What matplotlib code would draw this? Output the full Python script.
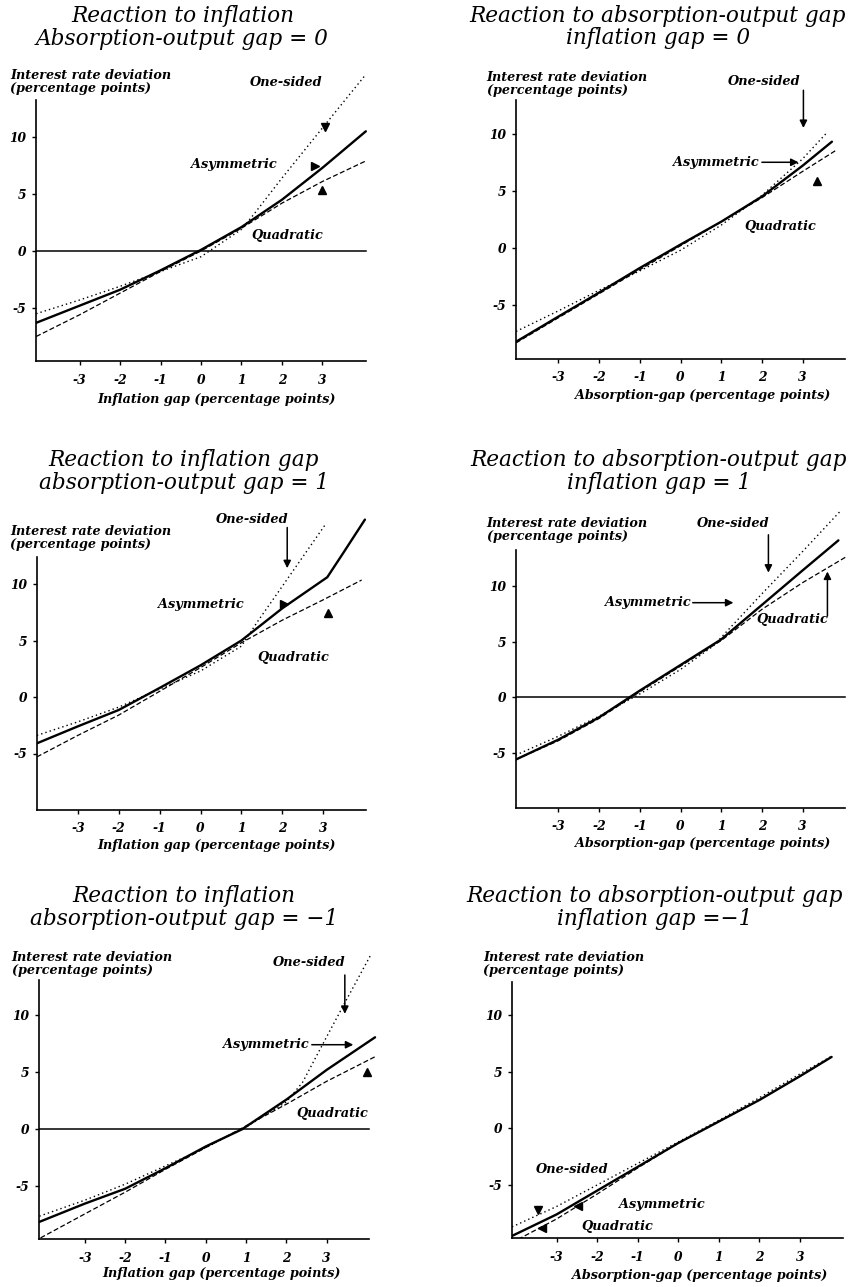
import matplotlib
matplotlib.use("Agg")
import matplotlib.pyplot as plt

# ---------------- data ----------------
X_TICKS = [-3, -2, -1, 0, 1, 2, 3]
X_TICK_LABELS = ["-3", "-2", "-1", "0", "1", "2", "3"]
Y_TICKS = [-5, 0, 5, 10]
Y_TICK_LABELS = ["-5", "0", "5", "10"]

TITLES = [
    "Reaction to inflation\nAbsorption-output gap = 0",
    "Reaction to absorption-output gap\ninflation gap = 0",
    "Reaction to inflation gap\nabsorption-output gap = 1",
    "Reaction to absorption-output gap\ninflation gap = 1",
    "Reaction to inflation\nabsorption-output gap = \u22121",
    "Reaction to absorption-output gap\ninflation gap =\u22121",
]
XLABELS = [
    "Inflation gap (percentage points)",
    "Absorption-gap (percentage points)",
    "Inflation gap (percentage points)",
    "Absorption-gap (percentage points)",
    "Inflation gap (percentage points)",
    "Absorption-gap (percentage points)",
]
YLABEL = "Interest rate deviation\n(percentage points)"

# Panel 1
P1_ASYM_X = [-4.07, -3, -2, -1, 0, 1, 2, 3, 4.07]
P1_ASYM_Y = [-6.3, -4.8, -3.4, -1.7, 0.1, 2.1, 4.5, 7.3, 10.5]
P1_QUAD_X = [-4.07, -3, -2, -1, 0, 1, 2, 3, 4.07]
P1_QUAD_Y = [-7.5, -5.6, -3.7, -1.8, 0.0, 2.0, 4.2, 6.1, 7.9]
P1_ONE_X = [-4.07, -3, -2, -1, 0, 1, 1.3, 2, 3, 4.05]
P1_ONE_Y = [-5.5, -4.3, -3.1, -1.8, -0.5, 1.9, 3.2, 6.4, 10.8, 15.4]

# Panel 2
P2_ASYM_X = [-4.04, -3, -2, -1, 0, 1, 2, 3, 3.72]
P2_ASYM_Y = [-8.2, -6.0, -3.9, -1.75, 0.3, 2.3, 4.5, 7.2, 9.3]
P2_QUAD_X = [-4.04, -3, -2, -1, 0, 1, 2, 3, 3.8]
P2_QUAD_Y = [-8.3, -6.1, -4.0, -1.9, 0.2, 2.3, 4.4, 6.7, 8.5]
P2_ONE_X = [-4.04, -3, -2, -1, 0, 1, 2, 3, 3.6]
P2_ONE_Y = [-7.3, -5.5, -3.7, -2.0, -0.2, 2.0, 4.6, 7.8, 10.1]

# Panel 3
P3_ASYM_X = [-4.0, -3, -2, -1, 0, 1, 2, 3.1, 3.5, 4.02]
P3_ASYM_Y = [-4.1, -2.6, -1.15, 0.8, 2.8, 5.0, 7.85, 10.6, 12.8, 15.7]
P3_QUAD_X = [-4.0, -3, -2, -1, 0, 1, 2, 3, 3.94]
P3_QUAD_Y = [-5.3, -3.4, -1.6, 0.5, 2.6, 4.8, 6.8, 8.6, 10.35]
P3_ONE_X = [-4.0, -3, -2, -1, 0, 1, 1.4, 2, 3.04]
P3_ONE_Y = [-3.4, -2.2, -0.9, 0.7, 2.3, 4.5, 6.7, 9.8, 15.2]

# Panel 4
P4_ASYM_X = [-4.05, -3, -2, -1, 0, 1, 2, 3, 3.88]
P4_ASYM_Y = [-5.6, -3.8, -1.8, 0.6, 2.9, 5.2, 8.3, 11.4, 14.1]
P4_QUAD_X = [-4.05, -3, -2, -1, 0, 1, 2, 3, 4.06]
P4_QUAD_Y = [-5.6, -3.9, -1.9, 0.5, 2.8, 5.1, 7.9, 10.3, 12.6]
P4_ONE_X = [-4.05, -3, -2, -1, 0, 0.8, 2, 3, 3.92]
P4_ONE_Y = [-5.2, -3.5, -1.7, 0.3, 2.5, 4.6, 9.3, 13.1, 16.7]

# Panel 5
P5_ASYM_X = [-4.13, -3, -2, -1, 0, 0.9, 2, 3, 4.2]
P5_ASYM_Y = [-8.1, -6.5, -5.2, -3.4, -1.5, 0.0, 2.6, 5.2, 8.05]
P5_QUAD_X = [-4.1, -3, -2, -1, 0, 1, 2, 3, 4.2]
P5_QUAD_Y = [-9.5, -7.4, -5.5, -3.5, -1.6, 0.3, 2.2, 4.2, 6.35]
P5_ONE_X = [-4.13, -3, -2, -1, 0, 1, 2, 2.4, 3, 3.5, 4.1]
P5_ONE_Y = [-7.6, -6.2, -4.8, -3.2, -1.6, 0.2, 2.4, 4.1, 8.1, 11.4, 15.3]

# Panel 6
P6_ASYM_X = [-4.1, -3, -2, -1, 0, 1, 2, 3, 3.78]
P6_ASYM_Y = [-9.5, -7.6, -5.5, -3.4, -1.3, 0.6, 2.5, 4.6, 6.3]
P6_QUAD_X = [-3.95, -3, -2, -1, 0, 1, 2, 3, 3.78]
P6_QUAD_Y = [-9.8, -8.0, -5.8, -3.5, -1.3, 0.6, 2.5, 4.6, 6.3]
P6_ONE_X = [-4.1, -3, -2, -1, 0, 1, 2, 3, 3.75]
P6_ONE_Y = [-8.7, -6.9, -5.0, -3.1, -1.2, 0.7, 2.7, 4.8, 6.3]

# ---------------- layout ----------------
W, H = 853, 1287
fig = plt.figure(figsize=(W / 100, H / 100), dpi=100)
fig.patch.set_facecolor("white")

TITLE_FONT = dict(family="DejaVu Serif", style="italic", size=15.6)
SMALL_FONT = dict(family="DejaVu Serif", style="italic", weight="bold", size=9.2)
ANN_FONT = dict(family="DejaVu Serif", style="italic", weight="bold", size=9.3)
TICK_FONT = dict(family="DejaVu Serif", style="italic", weight="bold", size=8.8)


def fx(px):
    return px / W


def fy(py):
    return 1 - py / H


PANELS = [
    dict(L=36, R=366, B=361, x0=201, sx=40.5, y0=251, sy=11.4, ytop=100, T=55,
         title=(182.5, 27.5), ylab=(10, 82), xlab=(216, 399), zero=True),
    dict(L=516, R=845, B=359, x0=680.5, sx=40.7, y0=248, sy=11.43, ytop=100, T=55,
         title=(658, 27), ylab=(486.7, 84), xlab=(702.5, 395), zero=False),
    dict(L=36.7, R=366, B=810, x0=200.5, sx=40.9, y0=697, sy=11.3, ytop=557, T=500,
         title=(184, 471.5), ylab=(10, 537.5), xlab=(216, 846), zero=False),
    dict(L=515.7, R=845, B=808, x0=680.5, sx=40.7, y0=697.3, sy=11.13, ytop=550, T=500,
         title=(659, 471.5), ylab=(486.7, 530), xlab=(702.5, 843), zero=True),
    dict(L=39.3, R=369, B=1239.3, x0=205.8, sx=40.3, y0=1129.3, sy=11.43, ytop=980, T=940,
         title=(184, 907.5), ylab=(11.7, 964), xlab=(221, 1273), zero=True),
    dict(L=511.7, R=843.3, B=1238.3, x0=678.3, sx=40.56, y0=1128.3, sy=11.33, ytop=981.7, T=960,
         title=(655, 907.5), ylab=(483.3, 964), xlab=(700, 1275), zero=False),
]

SERIES = [
    (P1_ASYM_X, P1_ASYM_Y, P1_QUAD_X, P1_QUAD_Y, P1_ONE_X, P1_ONE_Y),
    (P2_ASYM_X, P2_ASYM_Y, P2_QUAD_X, P2_QUAD_Y, P2_ONE_X, P2_ONE_Y),
    (P3_ASYM_X, P3_ASYM_Y, P3_QUAD_X, P3_QUAD_Y, P3_ONE_X, P3_ONE_Y),
    (P4_ASYM_X, P4_ASYM_Y, P4_QUAD_X, P4_QUAD_Y, P4_ONE_X, P4_ONE_Y),
    (P5_ASYM_X, P5_ASYM_Y, P5_QUAD_X, P5_QUAD_Y, P5_ONE_X, P5_ONE_Y),
    (P6_ASYM_X, P6_ASYM_Y, P6_QUAD_X, P6_QUAD_Y, P6_ONE_X, P6_ONE_Y),
]

axes = []
for i, (p, s) in enumerate(zip(PANELS, SERIES)):
    Rax = p["R"] + 15
    ax = fig.add_axes([fx(p["L"]), fy(p["B"]), (Rax - p["L"]) / W, (p["B"] - p["T"]) / H])
    ax.set_xlim((p["L"] - p["x0"]) / p["sx"], (Rax - p["x0"]) / p["sx"])
    ax.set_ylim((p["y0"] - p["B"]) / p["sy"], (p["y0"] - p["T"]) / p["sy"])
    xl0 = (p["L"] - p["x0"]) / p["sx"]
    xr = (p["R"] - p["x0"]) / p["sx"]
    yb = (p["y0"] - p["B"]) / p["sy"]
    yt = (p["y0"] - p["ytop"]) / p["sy"]
    for side in ("top", "right"):
        ax.spines[side].set_visible(False)
    ax.spines["left"].set_bounds(yb, yt)
    ax.spines["bottom"].set_bounds(xl0, xr)
    for side in ("left", "bottom"):
        ax.spines[side].set_linewidth(1.2)
    ax.patch.set_alpha(0)

    ax.set_xticks(X_TICKS)
    ax.set_xticklabels(X_TICK_LABELS, fontdict=TICK_FONT)
    ax.set_yticks(Y_TICKS)
    ax.set_yticklabels(Y_TICK_LABELS, fontdict=TICK_FONT)
    ax.tick_params(axis="x", length=3, width=1, pad=6, direction="out")
    ax.tick_params(axis="y", length=3, width=1, pad=4, direction="out")

    ax_x, ax_y, q_x, q_y, o_x, o_y = s
    ax.plot(ax_x, ax_y, color="black", lw=1.7, solid_capstyle="round")
    ax.plot(q_x, q_y, color="black", lw=0.9, linestyle=(0, (4, 2)))
    ax.plot(o_x, o_y, color="black", lw=1.0, linestyle=(0, (1, 2.2)))
    if p["zero"]:
        ax.plot([xl0, xr], [0, 0], color="black", lw=1.1)

    fig.text(fx(p["title"][0]), fy(p["title"][1]), TITLES[i], ha="center", va="center",
             linespacing=1.05, **TITLE_FONT)
    fig.text(fx(p["ylab"][0]), fy(p["ylab"][1]), YLABEL, ha="left", va="center",
             linespacing=1.0, **SMALL_FONT)
    fig.text(fx(p["xlab"][0]), fy(p["xlab"][1]), XLABELS[i], ha="center", va="center",
             **SMALL_FONT)
    axes.append(ax)


def label(ax, x, y, s):
    ax.text(x, y, s, ha="center", va="center", clip_on=False, **ANN_FONT)


def tri(ax, x, y, m):
    ax.plot([x], [y], marker=m, color="black", markersize=5.5, clip_on=False)


def arrow(ax, x0, y0, x1, y1):
    ax.annotate("", xy=(x1, y1), xytext=(x0, y0),
                arrowprops=dict(arrowstyle="-|>", color="black", lw=1.1,
                                mutation_scale=11, shrinkA=0, shrinkB=0))


# Panel 1 annotations
a = axes[0]
label(a, 2.1, 14.8, "One-sided")
tri(a, 3.06, 10.9, "v")
label(a, 0.81, 7.6, "Asymmetric")
tri(a, 2.81, 7.5, ">")
label(a, 2.14, 1.4, "Quadratic")
tri(a, 3.0, 5.35, "^")

# Panel 2 annotations
a = axes[1]
label(a, 2.05, 14.55, "One-sided")
arrow(a, 3.02, 13.8, 3.02, 10.5)
label(a, 0.87, 7.5, "Asymmetric")
arrow(a, 2.0, 7.5, 2.9, 7.5)
tri(a, 3.35, 5.9, "^")
label(a, 2.45, 1.86, "Quadratic")

# Panel 3 annotations
a = axes[2]
label(a, 1.27, 15.7, "One-sided")
arrow(a, 2.12, 15.0, 2.12, 11.4)
label(a, 0.0, 8.2, "Asymmetric")
tri(a, 2.03, 8.2, ">")
tri(a, 3.12, 7.4, "^")
label(a, 2.27, 3.5, "Quadratic")

# Panel 4 annotations
a = axes[3]
label(a, 1.3, 15.6, "One-sided")
arrow(a, 2.16, 14.6, 2.16, 11.2)
label(a, -0.81, 8.5, "Asymmetric")
arrow(a, 0.3, 8.5, 1.3, 8.5)
label(a, 2.75, 7.0, "Quadratic")
arrow(a, 3.61, 7.3, 3.61, 11.3)

# Panel 5 annotations
a = axes[4]
label(a, 2.56, 14.6, "One-sided")
arrow(a, 3.45, 13.5, 3.45, 10.1)
label(a, 1.49, 7.4, "Asymmetric")
arrow(a, 2.63, 7.4, 3.66, 7.4)
tri(a, 3.99, 5.04, "^")
label(a, 3.13, 1.4, "Quadratic")

# Panel 6 annotations
a = axes[5]
label(a, -2.61, -3.6, "One-sided")
tri(a, -3.45, -7.2, "v")
label(a, -0.41, -6.7, "Asymmetric")
tri(a, -2.47, -6.86, "<")
label(a, -1.5, -8.7, "Quadratic")
tri(a, -3.37, -8.83, "<")

fig.savefig("out.png", dpi=100, facecolor="white")
